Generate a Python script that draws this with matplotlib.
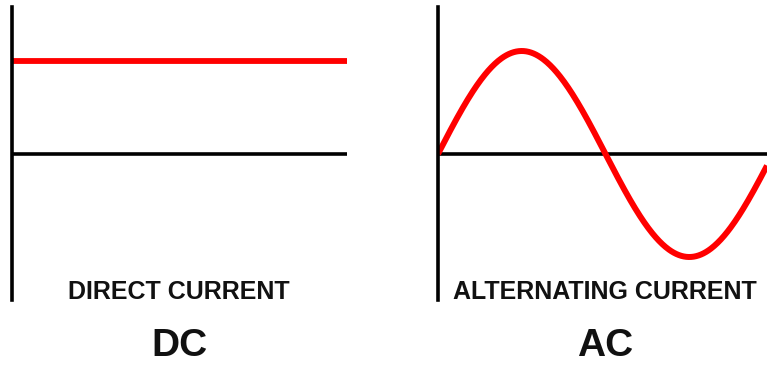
import numpy as np
import matplotlib.pyplot as plt

# DC: constant level, AC: sine of amplitude 1 over ~one cycle
dc_level = 1.0
ac_amplitude = 1.0
ac_cycles = 0.982
labels = ["DIRECT CURRENT", "ALTERNATING CURRENT"]
titles = ["DC", "AC"]

W, H = 767, 365
fig = plt.figure(figsize=(W / 100, H / 100), dpi=100)
fig.patch.set_facecolor("white")

def px_axes(x0, x1, y_top, y_bot):
    return fig.add_axes([x0 / W, 1 - y_bot / H, (x1 - x0) / W, (y_bot - y_top) / H])

def style(ax):
    for s in ["top", "right", "bottom"]:
        ax.spines[s].set_visible(False)
    ax.spines["left"].set_linewidth(2.6)
    ax.spines["left"].set_color("black")
    ax.set_xticks([])
    ax.set_yticks([])
    ax.patch.set_alpha(0)

# left panel: DC
ax1 = px_axes(12, 347, 7, 300)
style(ax1)
ax1.set_xlim(0, 1)
ax1.set_ylim(-(300 - 154) / 92.5, (154 - 7) / 92.5)
ax1.axhline(0, color="black", lw=2.6, solid_capstyle="butt")
ax1.plot([0, 1], [dc_level, dc_level], color="#ff0000", lw=4.2,
         solid_capstyle="butt", clip_on=False)

# right panel: AC
ax2 = px_axes(438, 767, 7, 300)
style(ax2)
t = np.linspace(0, ac_cycles, 400)
v = ac_amplitude * np.sin(2 * np.pi * t)
ax2.set_xlim(0, ac_cycles)
ax2.set_ylim(-(300 - 154) / 103, (154 - 7) / 103)
ax2.axhline(0, color="black", lw=2.6, solid_capstyle="butt")
ax2.plot(t, v, color="#ff0000", lw=4.3, solid_capstyle="butt")

font = "Liberation Sans"
for xc, lab, tit in zip([179, 605], labels, titles):
    fig.text(xc / W, 1 - 299 / H, lab, ha="center", va="baseline",
             fontsize=18, fontweight="bold", family=font, color="#111111")
    fig.text(xc / W, 1 - 356 / H, tit, ha="center", va="baseline",
             fontsize=28, fontweight="bold", family=font, color="#111111")

fig.savefig("out.png", dpi=100)
